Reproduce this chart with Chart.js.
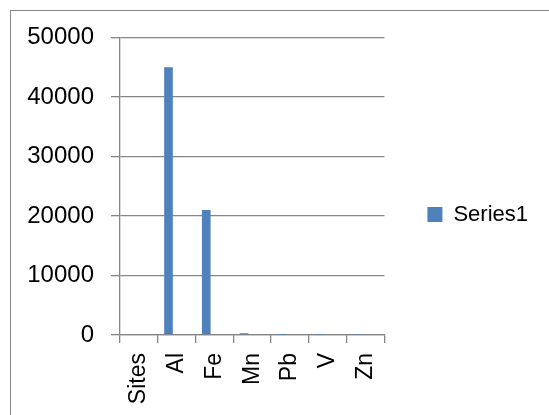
<!DOCTYPE html>
<html>
<head>
<meta charset="utf-8">
<script src="https://cdn.jsdelivr.net/npm/chart.js@4"></script>
<style>
  html, body { margin: 0; padding: 0; background: #fff; overflow: hidden; }
  #frame { position: absolute; left: 10px; top: 10px; width: 600px; height: 500px; border: 1px solid #868686; }
  #wrap { position: absolute; left: 0; top: 0; width: 549px; height: 415px; }
</style>
</head>
<body>
<div id="frame"></div>
<div id="wrap"><canvas id="elementChart"></canvas></div>
<script>
const categories = ['Sites', 'Al', 'Fe', 'Mn', 'Pb', 'V', 'Zn'];
const series1 = [0, 45000, 21000, 300, 20, 10, 40];
// empty second series in the original workbook, keeps Series1 bars left of centre
const series2 = [null, null, null, null, null, null, null];
const yTicks = [0, 10000, 20000, 30000, 40000, 50000];

const axisGray = '#868686';
const fontFamily = '"Liberation Sans", Arial, sans-serif';

function drawChart() {
    const chartContext = document.getElementById('elementChart').getContext('2d');
    return new Chart(chartContext, {
        type: 'bar',
        data: {
            labels: categories,
            datasets: [
                {
                    label: 'Series1',
                    data: series1,
                    backgroundColor: '#4f81bd',
                    borderWidth: 0,
                    categoryPercentage: 0.865,
                    barPercentage: 0.53
                },
                {
                    label: 'Series2',
                    data: series2,
                    backgroundColor: '#c0504d',
                    borderWidth: 0,
                    categoryPercentage: 0.865,
                    barPercentage: 0.53
                }
            ]
        },
        options: {
            responsive: true,
            maintainAspectRatio: false,
            animation: false,
            layout: {
                padding: { left: 27, right: 11, top: 25, bottom: 11 }
            },
            plugins: {
                legend: {
                    position: 'right',
                    maxWidth: 200,
                    labels: {
                        filter: (item) => item.datasetIndex === 0,
                        boxWidth: 15,
                        boxHeight: 15,
                        padding: 10,
                        color: '#000',
                        font: { family: fontFamily, size: 22 }
                    }
                },
                tooltip: { enabled: false }
            },
            scales: {
                x: {
                    afterFit: (scale) => { scale.height = 69; },
                    grid: {
                        display: true,
                        drawOnChartArea: false,
                        drawTicks: true,
                        tickLength: 8,
                        color: axisGray,
                        lineWidth: 1.3
                    },
                    border: { display: true, color: axisGray, width: 1.3 },
                    ticks: {
                        autoSkip: false,
                        minRotation: 90,
                        maxRotation: 90,
                        padding: 10,
                        color: '#000',
                        font: { family: fontFamily, size: 23 }
                    }
                },
                y: {
                    min: 0,
                    max: 50000,
                    afterBuildTicks: (scale) => { scale.ticks = yTicks.map(v => ({ value: v })); },
                    afterFit: (scale) => {
                        scale.width = 93;
                        scale.paddingTop = 37.5;
                    },
                    grid: {
                        color: axisGray,
                        lineWidth: 1.3,
                        tickLength: 9
                    },
                    border: { display: true, color: axisGray, width: 1.3 },
                    ticks: {
                        padding: 17,
                        color: '#000',
                        font: { family: fontFamily, size: 24 },
                        callback: (value) => String(value)
                    }
                },
                gap: {
                    type: 'linear',
                    axis: 'y',
                    position: 'right',
                    display: true,
                    grid: { display: false },
                    border: { display: false },
                    ticks: { display: false },
                    afterFit: (scale) => { scale.width = 33; }
                }
            }
        }
    });
}

document.fonts.load('24px "Liberation Sans"').then(drawChart, drawChart);
</script>
</body>
</html>
